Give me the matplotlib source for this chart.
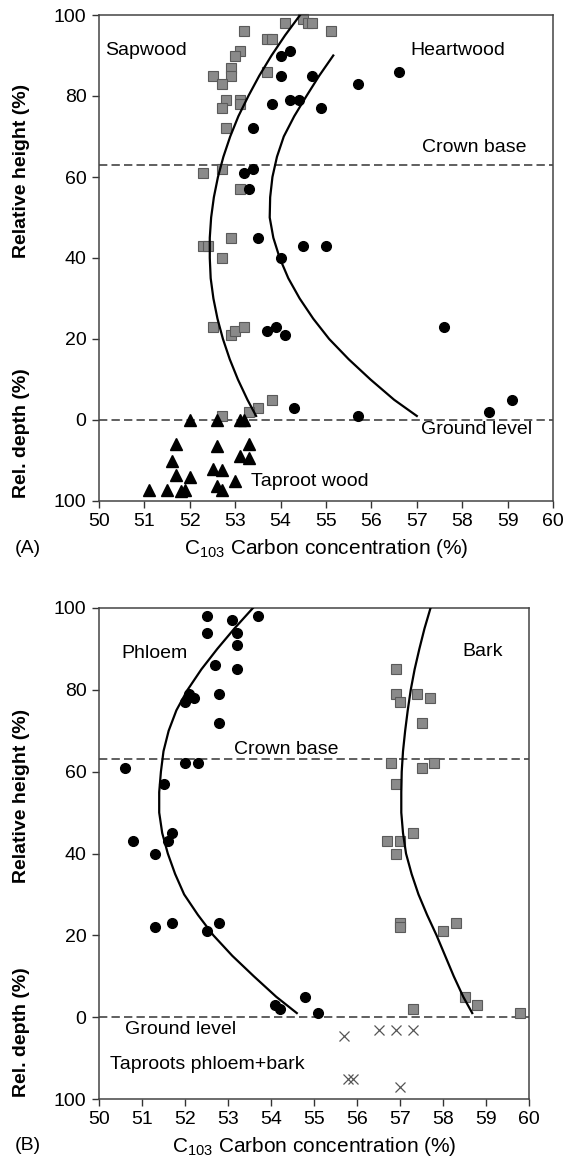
import matplotlib
matplotlib.use('Agg')
import matplotlib.pyplot as plt
import matplotlib.transforms as mtransforms

plt.rcParams['font.family'] = ['Liberation Sans', 'DejaVu Sans']
plt.rcParams['font.size'] = 14

# ---- panel A: stem wood ----
sap_c = [53.2, 54.1, 53.7, 53.8, 54.5, 54.6, 54.7, 55.1, 53.1, 53.0, 52.9, 52.9, 52.5,
         52.7, 53.7, 52.8, 53.1, 53.1, 52.7, 52.8, 52.3, 52.7, 53.1, 52.9, 52.3, 52.4,
         52.7, 52.5, 52.9, 53.0, 53.2, 53.8, 53.5, 53.3, 52.7]
sap_h = [96, 98, 94, 94, 99, 98, 98, 96, 91, 90, 87, 85, 85,
         83, 86, 79, 79, 78, 77, 72, 61, 62, 57, 45, 43, 43,
         40, 23, 21, 22, 23, 5, 3, 2, 1]

heart_c = [54.0, 54.2, 54.0, 54.7, 55.7, 56.6, 53.8, 54.2, 54.4, 54.9, 53.4, 53.2, 53.4,
           53.3, 53.5, 54.5, 55.0, 54.0, 53.7, 53.9, 54.1, 57.6, 54.3, 55.7, 58.6, 59.1]
heart_h = [90, 91, 85, 85, 83, 86, 78, 79, 79, 77, 72, 61, 62,
           57, 45, 43, 43, 40, 22, 23, 21, 23, 3, 1, 2, 5]

tap_c = [52.0, 52.6, 53.1, 53.2, 51.7, 52.6, 53.3, 51.6, 53.1, 53.3, 51.7, 52.0,
         52.5, 52.7, 53.0, 52.6, 52.7, 51.1, 51.5, 51.8, 51.9]
tap_d = [0, 0, 0, 0, 30, 32, 30, 51, 44, 47, 68, 70,
         61, 62, 75, 81, 86, 86, 86, 88, 86]

# fitted curves
sap_fit_h = [100, 95, 90, 85, 80, 75, 70, 65, 60, 55, 50, 45, 40, 35, 30, 25, 20, 15, 10, 5, 1]
sap_fit_c = [54.43, 54.10, 53.80, 53.53, 53.29, 53.07, 52.89, 52.74, 52.62, 52.53, 52.47,
             52.44, 52.44, 52.46, 52.52, 52.61, 52.73, 52.88, 53.06, 53.27, 53.46]
heart_fit_h = [90, 85, 80, 75, 70, 65, 60, 55, 50, 45, 40, 35, 30, 25, 20, 15, 10, 5, 1]
heart_fit_c = [55.16, 54.85, 54.57, 54.30, 54.07, 53.92, 53.82, 53.77, 53.76, 53.84, 53.98,
               54.17, 54.42, 54.72, 55.07, 55.50, 55.98, 56.50, 57.00]

# ---- panel B: phloem and bark ----
phl_c = [52.5, 52.5, 53.1, 53.7, 53.2, 53.2, 53.2, 52.7, 52.1, 52.0, 52.2, 52.8, 52.8,
         52.0, 52.3, 50.6, 51.5, 50.8, 51.6, 51.7, 51.3, 51.3, 51.7, 52.5, 52.8,
         54.1, 54.2, 54.8, 55.1]
phl_h = [98, 94, 97, 98, 94, 91, 85, 86, 79, 77, 78, 79, 72,
         62, 62, 61, 57, 43, 43, 45, 40, 22, 23, 21, 23,
         3, 2, 5, 1]

bark_c = [56.9, 56.9, 57.0, 57.4, 57.7, 57.5, 56.8, 57.5, 57.8, 56.9, 56.7, 57.0, 57.3,
          56.9, 57.0, 57.0, 58.0, 58.3, 58.5, 58.8, 57.3, 59.8]
bark_h = [85, 79, 77, 79, 78, 72, 62, 61, 62, 57, 43, 43, 45,
          40, 23, 22, 21, 23, 5, 3, 2, 1]

root_c = [55.7, 56.5, 56.9, 57.3, 55.8, 55.9, 57.0]
root_d = [23, 16, 16, 16, 75, 75, 85]

fit_h_b = [100, 95, 90, 85, 80, 75, 70, 65, 60, 55, 50, 45, 40, 35, 30, 25, 20, 15, 10, 5, 1]
phl_fit_c = [53.58, 53.15, 52.75, 52.38, 52.06, 51.80, 51.62, 51.50, 51.44, 51.40, 51.40,
             51.47, 51.60, 51.77, 51.98, 52.30, 52.66, 53.10, 53.60, 54.12, 54.60]
bark_fit_c = [57.71, 57.57, 57.45, 57.34, 57.25, 57.18, 57.12, 57.07, 57.04, 57.03, 57.03,
              57.07, 57.14, 57.27, 57.43, 57.63, 57.85, 58.05, 58.25, 58.47, 58.68]

CROWN_BASE = 63
yticks = [-20, 0, 20, 40, 60, 80, 100]
yticklabels = ['100', '0', '20', '40', '60', '80', '100']


def depth_to_y(d):
    # below ground the depth axis is compressed: 100 % depth spans 20 units
    return [-v / 5.0 for v in d]


def setup_axes(ax):
    ax.set_xlim(50, 60)
    ax.set_ylim(-20, 100)
    ax.set_xticks(range(50, 61))
    ax.set_yticks(yticks)
    ax.set_yticklabels(yticklabels)
    ax.tick_params(direction='out', length=5, width=1, color='#333333', labelsize=14, pad=4)
    for sp in ax.spines.values():
        sp.set_color('#444444')
        sp.set_linewidth(1.1)
    ax.axhline(CROWN_BASE, color='#444444', lw=1.2, ls=(0, (5, 2.5)), zorder=1)
    ax.axhline(0, color='#444444', lw=1.2, ls=(0, (5, 2.5)), zorder=1)


def side_labels(fig, ax, height_y, depth_y, panel, label_y):
    tr = mtransforms.blended_transform_factory(fig.transFigure, ax.transData)
    ax.text(0.038, height_y, 'Relative height (%)', transform=tr, rotation=90,
            ha='center', va='center', fontsize=14, fontweight='bold')
    ax.text(0.038, depth_y, 'Rel. depth (%)', transform=tr, rotation=90,
            ha='center', va='center', fontsize=14, fontweight='bold')
    pos = ax.get_position()
    fig.text(pos.x0 + pos.width / 2, label_y, r'C$_\mathregular{103}$ Carbon concentration (%)',
             ha='center', va='center', fontsize=15)
    fig.text(0.025, label_y, panel, ha='left', va='center', fontsize=14)


W, H = 576, 1159
fig = plt.figure(figsize=(W / 100, H / 100), dpi=100)

axA = fig.add_axes([99 / W, 1 - 501 / H, (553 - 99) / W, (501 - 15) / H])
setup_axes(axA)
axA.plot(sap_fit_c, sap_fit_h, color='black', lw=1.6, zorder=3)
axA.plot(heart_fit_c, heart_fit_h, color='black', lw=1.6, zorder=3)
axA.plot(sap_c, sap_h, ls='none', marker='s', ms=7.5, mfc='#8a8a8a', mec='#5a5a5a', mew=0.8, zorder=2, clip_on=False)
axA.plot(heart_c, heart_h, ls='none', marker='o', ms=7, color='black', zorder=4, clip_on=False)
axA.plot(tap_c, depth_to_y(tap_d), ls='none', marker='^', ms=8, color='black', zorder=4, clip_on=False)
axA.text(50.14, 91.3, 'Sapwood', ha='left', va='center', fontsize=14)
axA.text(57.9, 91.3, 'Heartwood', ha='center', va='center', fontsize=14)
axA.text(58.27, 67.2, 'Crown base', ha='center', va='center', fontsize=14)
axA.text(59.54, -2.4, 'Ground level', ha='right', va='center', fontsize=14)
axA.text(53.34, -15.3, 'Taproot wood', ha='left', va='center', fontsize=14)
side_labels(fig, axA, 61.5, -3.3, '(A)', 1 - 549 / H)

axB = fig.add_axes([99 / W, 1 - 1099 / H, (529 - 99) / W, (1099 - 608) / H])
setup_axes(axB)
axB.plot(phl_fit_c, fit_h_b, color='black', lw=1.6, zorder=3)
axB.plot(bark_fit_c, fit_h_b, color='black', lw=1.6, zorder=3)
axB.plot(phl_c, phl_h, ls='none', marker='o', ms=7, color='black', zorder=4, clip_on=False)
axB.plot(bark_c, bark_h, ls='none', marker='s', ms=7.5, mfc='#8a8a8a', mec='#5a5a5a', mew=0.8, zorder=2, clip_on=False)
axB.plot(root_c, depth_to_y(root_d), ls='none', marker='x', ms=7.5, mew=0.9, color='#555555', zorder=4)
axB.text(50.53, 88.9, 'Phloem', ha='left', va='center', fontsize=14)
axB.text(58.93, 89.3, 'Bark', ha='center', va='center', fontsize=14)
axB.text(53.13, 65.5, 'Crown base', ha='left', va='center', fontsize=14)
axB.text(50.6, -3.1, 'Ground level', ha='left', va='center', fontsize=14)
axB.text(50.26, -11.5, 'Taproots phloem+bark', ha='left', va='center', fontsize=14)
side_labels(fig, axB, 54, -3.6, '(B)', 1 - 1146 / H)

fig.savefig('out.png', dpi=100)
